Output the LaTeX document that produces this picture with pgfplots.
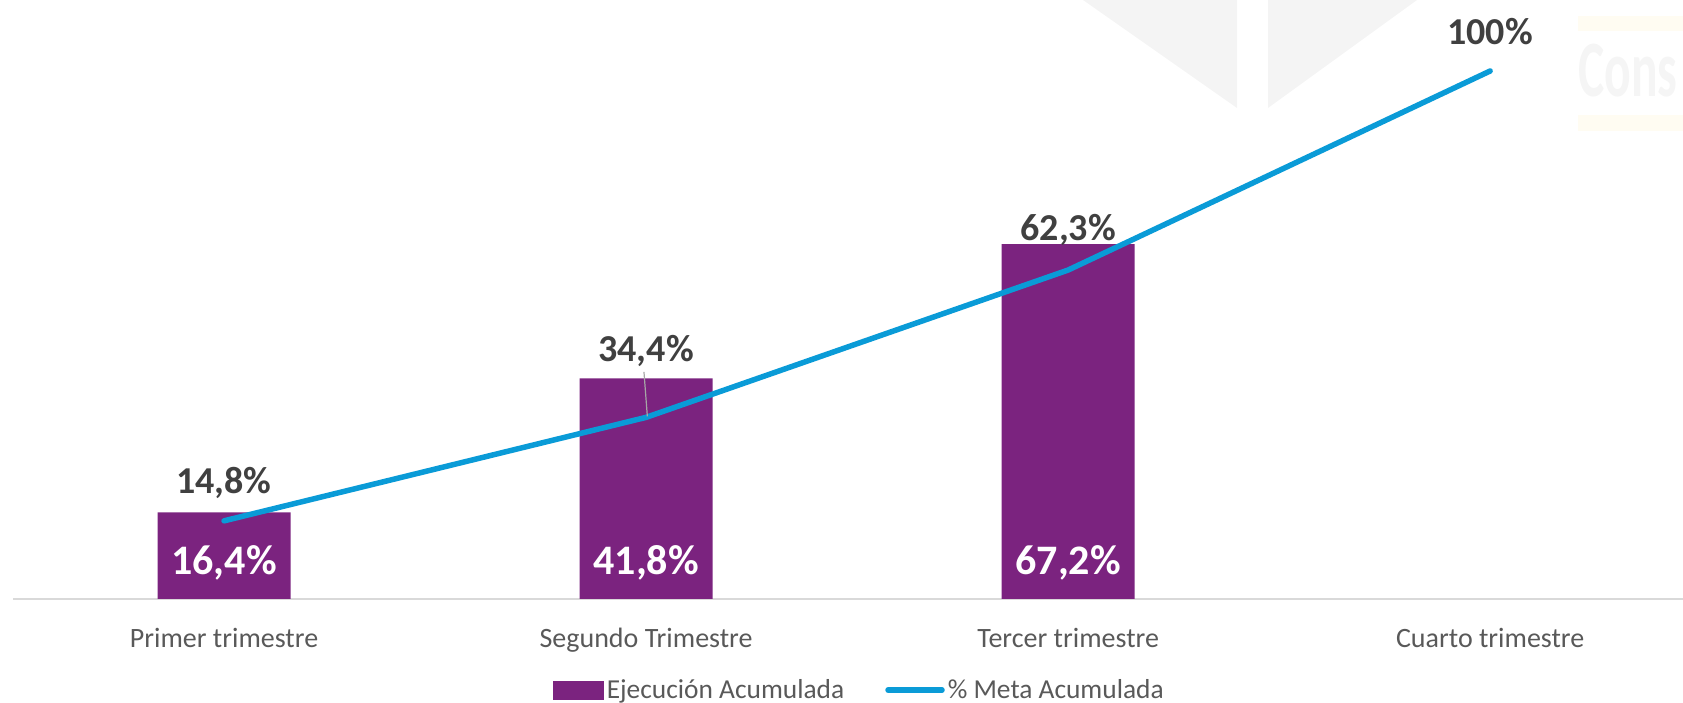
\documentclass[border=0pt]{standalone}
\usepackage{pgfplots}
\pgfplotsset{compat=1.18}
\usepackage{fontspec}
\setmainfont{Carlito}
\usepackage{graphicx}

\definecolor{barpurple}{HTML}{7B237F}
\definecolor{metablue}{HTML}{0A9BD7}
\definecolor{labgray}{HTML}{404040}
\definecolor{tickgray}{HTML}{595959}
\definecolor{basegray}{HTML}{D9D9D9}
\definecolor{leadgray}{HTML}{A6A6A6}
\definecolor{wmgray}{HTML}{F4F4F4}
\definecolor{wmtext}{HTML}{F5F5F5}
\definecolor{wmyellow}{HTML}{FFFCF2}

\begin{document}
\begin{tikzpicture}[x=0.5bp,y=0.5bp]
% page frame, 1683 x 703 units
\path[use as bounding box] (0,0) rectangle (1683,703);

% faint background logo
\fill[wmgray] (1083,703) -- (1237,703) -- (1237,595) -- cycle;
\fill[wmgray] (1268,703) -- (1268,595) -- (1417,703) -- cycle;
\fill[wmyellow] (1578,672) rectangle (1683,687);
\fill[wmyellow] (1578,572) rectangle (1683,588);
\node[anchor=base west, inner sep=0pt, text=wmtext,
      font=\bfseries\fontsize{40bp}{44bp}\selectfont] at (1578,606)
      {\scalebox{0.62}[1]{Cons}};

\begin{axis}[
  at={(6.5bp,52bp)}, anchor=south west,
  scale only axis, width=835bp, height=299.5bp,
  xmin=-0.5, xmax=3.457, ymin=0, ymax=113.45,
  clip=false,
  axis y line=none,
  axis x line*=bottom,
  x axis line style={draw=basegray, line width=0.75bp, -},
  xtick={0,1,2,3},
  xticklabels={Primer trimestre, Segundo Trimestre, Tercer trimestre, Cuarto trimestre},
  major tick length=0pt,
  xticklabel style={anchor=north, inner sep=0pt, yshift=-14.5bp,
    font=\fontsize{14bp}{16bp}\selectfont, text=tickgray},
  legend columns=2,
  legend style={at={(0.507,-0.152)}, anchor=center, draw=none, fill=none,
    font=\fontsize{13.7bp}{15bp}\selectfont, text=tickgray,
    /tikz/every even column/.append style={column sep=19bp},
    nodes={inner sep=1.5bp}},
]
% Ejecución Acumulada
\addplot[ybar, bar width=66.5bp, fill=barpurple, draw=none,
  legend image code/.code={\fill[barpurple] (0bp,-4.75bp) rectangle (25.5bp,4.75bp);}]
  coordinates {(0,16.4) (1,41.8) (2,67.2)};
\addlegendentry{Ejecución Acumulada}

% % Meta Acumulada
\addplot[metablue, line width=2.75bp, line cap=round, line join=round,
  legend image code/.code={\draw[metablue, line width=2.75bp, line cap=round] (0bp,0bp) -- (27bp,0bp);}]
  coordinates {(0,14.8) (1,34.4) (2,62.3) (3,100)};
\addlegendentry{\% Meta Acumulada}

% leader line for the second target label
\draw[leadgray, line width=0.6bp] (axis cs:0.995,43.0) -- (axis cs:1.003,34.6);

% target labels
\begin{scope}[every node/.style={font=\bfseries\fontsize{19bp}{22bp}\selectfont, text=labgray, inner sep=0pt}]
\node at (axis cs:0,22.0) {14,8\%};
\node at (axis cs:1,47.0) {34,4\%};
\node at (axis cs:2,69.9) {62,3\%};
\node at (axis cs:3,107.4) {100\%};
\end{scope}

% execution labels inside the bars
\begin{scope}[every node/.style={font=\bfseries\fontsize{21bp}{24bp}\selectfont, text=white, inner sep=0pt}]
\node at (axis cs:0,6.8) {16,4\%};
\node at (axis cs:1,6.8) {41,8\%};
\node at (axis cs:2,6.8) {67,2\%};
\end{scope}
\end{axis}
\end{tikzpicture}
\end{document}
